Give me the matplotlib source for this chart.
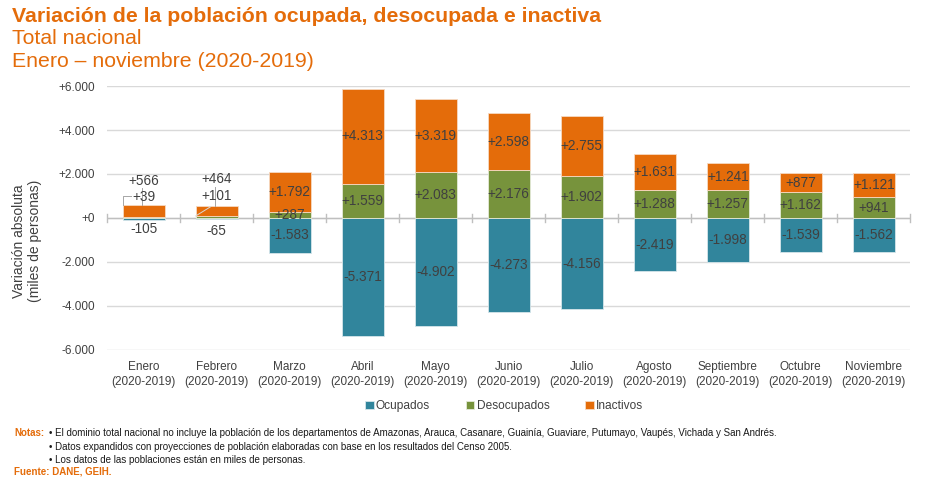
import numpy as np
import matplotlib
matplotlib.use('Agg')
from matplotlib import pyplot as plt

meses = ['Enero', 'Febrero', 'Marzo', 'Abril', 'Mayo', 'Junio', 'Julio',
         'Agosto', 'Septiembre', 'Octubre', 'Noviembre']
periodo = '(2020-2019)'
ocupados = [-105, -65, -1583, -5371, -4902, -4273, -4156, -2419, -1998, -1539, -1562]
desocupados = [39, 101, 287, 1559, 2083, 2176, 1902, 1288, 1257, 1162, 941]
inactivos = [566, 464, 1792, 4313, 3319, 2598, 2755, 1631, 1241, 877, 1121]
yticks = [-6000, -4000, -2000, 0, 2000, 4000, 6000]

c_ocu = '#31859C'
c_des = '#77933C'
c_ina = '#E46C0A'
orange = '#E46C0A'
txt = '#404040'

plt.rcParams['font.family'] = ['Liberation Sans', 'DejaVu Sans']


def fmt(v):
    s = f'{abs(v):,}'.replace(',', '.')
    return ('+' if v >= 0 else '-') + s


fig = plt.figure(figsize=(9.25, 4.78), dpi=100)
ax = fig.add_axes([0.116, 0.268, 0.868, 0.552])

x = np.arange(len(meses))
w = 0.57
ocu = np.array(ocupados)
des = np.array(desocupados)
ina = np.array(inactivos)

ax.bar(x, ocu, w, color=c_ocu, edgecolor='#d6e6ea', linewidth=0.6, label='Ocupados', zorder=3)
ax.bar(x, des, w, color=c_des, edgecolor='#e4ead8', linewidth=0.6, label='Desocupados', zorder=3)
ax.bar(x, ina, w, bottom=des, color=c_ina, edgecolor='#f6d9c2', linewidth=0.6, label='Inactivos', zorder=3)

# labels, centred in the segments except the small bars of enero / febrero
special = {0: (1680, 955, -500), 1: (1770, 1000, -590)}
for i in x:
    if i in special:
        yi, yd, yo = special[i]
    else:
        yi, yd, yo = des[i] + ina[i] / 2, des[i] / 2, ocu[i] / 2
    for yy, v in ((yi, ina[i]), (yd, des[i]), (yo, ocu[i])):
        ax.text(i, yy, fmt(v), ha='center', va='center', fontsize=9.8, color=txt, zorder=5)

# leader lines
lc = '#A6A6A6'
ax.plot([-0.02, -0.02], [1350, des[0] + ina[0]], color=lc, lw=0.7, zorder=4)
ax.plot([-0.17, -0.29, -0.29], [1000, 1000, des[0] + ina[0]], color=lc, lw=0.7, zorder=4)
ax.plot([0.97, 0.97], [1420, des[1] + ina[1]], color=lc, lw=0.7, zorder=4)
ax.plot([0.71, 0.92], [90, 520], color='#d9d9d9', lw=0.7, zorder=4)

ax.set_ylim(-6000, 6000)
ax.set_xlim(-0.5, len(meses) - 0.5)
ax.set_yticks(yticks)
ax.set_yticklabels([fmt(v) for v in yticks], fontsize=8.5, color=txt)
ax.set_xticks(x)
ax.set_xticklabels([m + '\n' + periodo for m in meses], fontsize=8.5, color=txt, linespacing=1.3)
ax.tick_params(axis='x', length=0, pad=8)
ax.tick_params(axis='y', length=0, pad=9)
ax.grid(axis='y', color='#D9D9D9', lw=1, zorder=0)
for s in ax.spines.values():
    s.set_visible(False)

# zero axis with small ticks between categories
ax.axhline(0, color='#BFBFBF', lw=1, zorder=2)
for b in np.arange(-0.5, len(meses), 1):
    ax.plot([b, b], [-180, 180], color='#BFBFBF', lw=1, zorder=2, clip_on=False)

fig.text(27 / 925, 1 - 241 / 478, 'Variación absoluta\n(miles de personas)', rotation=90,
         ha='center', va='center', fontsize=10, color=txt, linespacing=1.2)

fig.text(0.013, 0.965, 'Variación de la población ocupada, desocupada e inactiva',
         fontsize=15.3, fontweight='bold', color=orange, va='center')
fig.text(0.013, 0.919, 'Total nacional', fontsize=15.3, color=orange, va='center')
fig.text(0.013, 0.871, 'Enero – noviembre (2020-2019)', fontsize=15.3, color=orange, va='center')

fig.legend(loc='center', bbox_to_anchor=(0.545, 1 - 406 / 478), ncol=3, frameon=False,
           fontsize=8.6, handlelength=0.7, handleheight=0.7, handletextpad=0.2,
           columnspacing=3.0, labelcolor=txt)

notes = ['• El dominio total nacional no incluye la población de los departamentos de Amazonas, Arauca, Casanare, Guainía, Guaviare, Putumayo, Vaupés, Vichada y San Andrés.',
         '• Datos expandidos con proyecciones de población elaboradas con base en los resultados del Censo 2005.',
         '• Los datos de las poblaciones están en miles de personas.']
nfam = ['Liberation Sans Narrow', 'Liberation Sans', 'DejaVu Sans']
fig.text(14 / 925, 1 - 433 / 478, 'Notas:', fontsize=7, fontweight='bold', color=orange,
         va='center', family=nfam)
for k, n in enumerate(notes):
    fig.text(49 / 925, 1 - (433 + 13.5 * k) / 478, n, fontsize=7.05, color='#1a1a1a',
             va='center', family=nfam)
fig.text(14 / 925, 1 - 472 / 478, 'Fuente: DANE, GEIH.', fontsize=7, fontweight='bold',
         color=orange, va='center', family=nfam)

fig.savefig('out.png', dpi=100)
